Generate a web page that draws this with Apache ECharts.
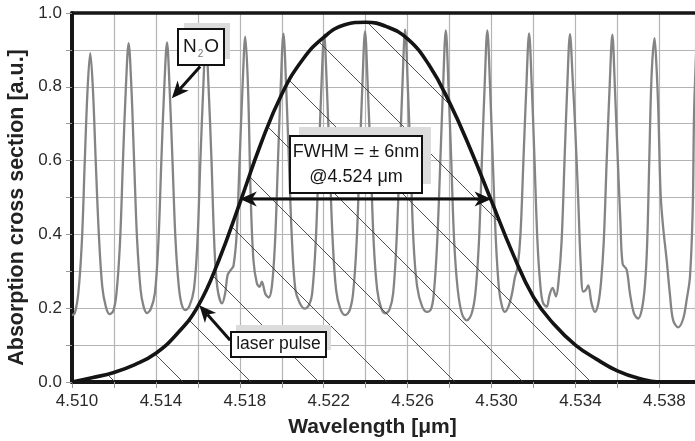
<!DOCTYPE html>
<html>
<head>
<meta charset="utf-8">
<script src="https://cdn.jsdelivr.net/npm/echarts@6/dist/echarts.min.js"></script>
<style>
  html, body { margin: 0; padding: 0; background: #ffffff; }
  #chart { width: 695px; height: 441px; }
</style>
</head>
<body>
<div id="chart"></div>
<script>
// ---- Axis ranges (µm / a.u.) ----
const X_MIN = 4.510;
const X_MAX = 4.5397;
const Y_MIN = 0;
const Y_MAX = 1;

// ---- N2O absorption spectrum ----
const n2oWavelength = [
  4.51000, 4.51013, 4.51030, 4.51047, 4.51061, 4.51074, 4.51087, 4.51100, 4.51113, 4.51128, 4.51144, 4.51161, 4.51179, 4.51197, 4.51212,
  4.51229, 4.51243, 4.51257, 4.51270, 4.51283, 4.51296, 4.51310, 4.51327, 4.51341, 4.51357, 4.51375, 4.51395,
  4.51412, 4.51426, 4.51440, 4.51453, 4.51465, 4.51479, 4.51493, 4.51509, 4.51523, 4.51540, 4.51559, 4.51581,
  4.51598, 4.51612, 4.51626, 4.51638, 4.51651, 4.51665, 4.51678, 4.51692, 4.51715, 4.51730, 4.51742, 4.51759, 4.51770,
  4.51785, 4.51799, 4.51813, 4.51826, 4.51839, 4.51852, 4.51865, 4.51881, 4.51894, 4.51905, 4.51921, 4.51937, 4.51953,
  4.51968, 4.51982, 4.51995, 4.52008, 4.52021, 4.52034, 4.52049, 4.52065, 4.52085, 4.52109, 4.52131, 4.52145,
  4.52162, 4.52176, 4.52189, 4.52202, 4.52215, 4.52228, 4.52243, 4.52259, 4.52278, 4.52302, 4.52324, 4.52340,
  4.52357, 4.52371, 4.52384, 4.52397, 4.52410, 4.52424, 4.52438, 4.52455, 4.52474, 4.52493, 4.52514, 4.52531,
  4.52547, 4.52562, 4.52575, 4.52588, 4.52601, 4.52614, 4.52628, 4.52645, 4.52669, 4.52693, 4.52712, 4.52725,
  4.52741, 4.52756, 4.52769, 4.52782, 4.52795, 4.52808, 4.52822, 4.52839, 4.52859, 4.52882, 4.52905, 4.52923,
  4.52940, 4.52954, 4.52967, 4.52980, 4.52993, 4.53006, 4.53021, 4.53036, 4.53050, 4.53064, 4.53081, 4.53096, 4.53112, 4.53124,
  4.53138, 4.53152, 4.53166, 4.53179, 4.53192, 4.53205, 4.53219, 4.53233, 4.53245, 4.53263, 4.53276, 4.53291, 4.53307, 4.53319,
  4.53334, 4.53348, 4.53361, 4.53374, 4.53387, 4.53398, 4.53414, 4.53425, 4.53437, 4.53450, 4.53461, 4.53477, 4.53493, 4.53509, 4.53522,
  4.53535, 4.53549, 4.53563, 4.53576, 4.53588, 4.53602, 4.53614, 4.53625, 4.53644, 4.53660, 4.53679, 4.53699, 4.53716, 4.53731,
  4.53742, 4.53752, 4.53763, 4.53777, 4.53786, 4.53795, 4.53806, 4.53818, 4.53835, 4.53850, 4.53866, 4.53890, 4.53914, 4.53930, 4.53946, 4.53959, 4.53966, 4.53979
];
const n2oAbsorption = [
  0.181, 0.186, 0.24, 0.38, 0.60, 0.79, 0.891, 0.79, 0.60, 0.40, 0.26, 0.205, 0.184, 0.193, 0.24,
  0.38, 0.60, 0.80, 0.918, 0.80, 0.60, 0.39, 0.25, 0.205, 0.187, 0.197, 0.24,
  0.38, 0.60, 0.80, 0.920, 0.80, 0.60, 0.39, 0.26, 0.21, 0.195, 0.205, 0.25,
  0.38, 0.60, 0.80, 0.935, 0.80, 0.60, 0.38, 0.26, 0.213, 0.24, 0.29, 0.305, 0.315,
  0.40, 0.60, 0.80, 0.936, 0.80, 0.50, 0.33, 0.268, 0.258, 0.272, 0.24, 0.229, 0.26,
  0.38, 0.60, 0.80, 0.944, 0.80, 0.60, 0.38, 0.25, 0.215, 0.199, 0.21, 0.24,
  0.38, 0.60, 0.80, 0.941, 0.80, 0.60, 0.38, 0.25, 0.20, 0.181, 0.195, 0.24,
  0.38, 0.60, 0.80, 0.950, 0.80, 0.60, 0.38, 0.25, 0.20, 0.186, 0.197, 0.24,
  0.38, 0.60, 0.80, 0.955, 0.80, 0.60, 0.38, 0.26, 0.205, 0.190, 0.198, 0.24,
  0.38, 0.60, 0.80, 0.953, 0.80, 0.60, 0.38, 0.25, 0.185, 0.167, 0.185, 0.24,
  0.38, 0.60, 0.80, 0.953, 0.80, 0.60, 0.38, 0.25, 0.205, 0.190, 0.205, 0.235, 0.285, 0.31,
  0.40, 0.60, 0.80, 0.945, 0.80, 0.60, 0.38, 0.26, 0.215, 0.204, 0.235, 0.255, 0.232, 0.27,
  0.38, 0.60, 0.80, 0.943, 0.82, 0.70, 0.484, 0.321, 0.245, 0.250, 0.262, 0.213, 0.190, 0.213, 0.27,
  0.38, 0.60, 0.80, 0.941, 0.80, 0.60, 0.44, 0.32, 0.305, 0.24, 0.186, 0.172, 0.195, 0.26,
  0.376, 0.60, 0.83, 0.932, 0.86, 0.737, 0.511, 0.42, 0.33, 0.24, 0.167, 0.148, 0.172, 0.222, 0.285, 0.466, 0.737, 0.94
];

// ---- Laser pulse spectrum ----
const pulseWavelength = [
  4.510, 4.511, 4.512, 4.513, 4.514, 4.515, 4.516, 4.517, 4.518, 4.519,
  4.520, 4.521, 4.522, 4.523, 4.524, 4.525, 4.526, 4.527, 4.528, 4.529,
  4.530, 4.531, 4.532, 4.533, 4.534, 4.535, 4.536, 4.537, 4.538, 4.539
];
const pulseIntensity = [
  0.0, 0.012, 0.026, 0.047, 0.078, 0.13, 0.205, 0.33, 0.485, 0.645,
  0.78, 0.874, 0.934, 0.968, 0.975, 0.963, 0.93, 0.861, 0.757, 0.63,
  0.49, 0.35, 0.23, 0.155, 0.10, 0.062, 0.03, 0.01, 0.0, 0.0
];

// ---- Pulse width annotation: centre and half width (µm) ----
const pulseCentre = 4.524;
const pulseHalfWidth = 0.006;
const pulseHalfMax = 0.496;

// ---- Tick spacing ----
const xTickStep = 0.002;
const yTickStep = 0.1;

const chart = echarts.init(document.getElementById('chart'), null, { renderer: 'canvas' });

// diagonal hatch used to fill the area under the laser pulse
function hatchPattern() {
  const size = 68;
  const tile = document.createElement('canvas');
  tile.width = size;
  tile.height = size;
  const ctx = tile.getContext('2d');
  ctx.strokeStyle = '#3c3c3c';
  ctx.lineWidth = 0.9;
  [5 - size, 5].forEach(function (s) {
    ctx.beginPath();
    ctx.moveTo(s, 0);
    ctx.lineTo(s + size, size);
    ctx.stroke();
  });
  return { image: tile, repeat: 'repeat' };
}

// pick the narrow sans face for the callout boxes when it is installed
function fontInstalled(name) {
  const ctx = document.createElement('canvas').getContext('2d');
  const probe = 'FWHM = ± 6nm laser pulse';
  ctx.font = '40px monospace';
  const a = ctx.measureText(probe).width;
  ctx.font = '40px "' + name + '", monospace';
  const b = ctx.measureText(probe).width;
  return Math.abs(a - b) > 0.5;
}
const narrow = fontInstalled('Liberation Sans Narrow');
const boxFont = narrow ? '"Liberation Sans Narrow"' : '"Liberation Sans", Arial, sans-serif';
const boxSize = narrow ? 21 : 18;

const n2oData = n2oWavelength.map(function (w, i) { return [w, n2oAbsorption[i]]; });
const pulseData = pulseWavelength.map(function (w, i) { return [w, pulseIntensity[i]]; });

const axisFont = '"Liberation Sans", Arial, Helvetica, sans-serif';
const gridColor = '#b4b4b4';
const frameColor = '#161616';

chart.setOption({
  animation: false,
  backgroundColor: '#ffffff',
  grid: { left: 72, right: 0, top: 13, bottom: 59, containLabel: false },
  xAxis: [
    {
      type: 'value',
      min: X_MIN,
      max: X_MAX,
      interval: xTickStep,
      axisLine: { show: true, onZero: false, lineStyle: { color: frameColor, width: 4 } },
      axisTick: { show: true, length: 6, lineStyle: { color: '#9a9a9a', width: 1 } },
      axisLabel: {
        color: '#2a2a2a',
        fontSize: 17,
        fontFamily: axisFont,
        margin: 11,
        padding: [0, 0, 0, 10],
        showMaxLabel: false,
        formatter: function (v) {
          const k = Math.round((v - X_MIN) / xTickStep);
          return k % 2 === 0 ? v.toFixed(3) : '';
        }
      },
      splitLine: { show: true, lineStyle: { color: gridColor, width: 1.2 } }
    },
    {
      type: 'value',
      position: 'top',
      min: X_MIN,
      max: X_MAX,
      axisLine: { show: true, onZero: false, lineStyle: { color: frameColor, width: 3.5 } },
      axisTick: { show: false },
      axisLabel: { show: false },
      splitLine: { show: false }
    }
  ],
  yAxis: {
    type: 'value',
    min: Y_MIN,
    max: Y_MAX,
    interval: yTickStep,
    axisLine: { show: true, onZero: false, lineStyle: { color: frameColor, width: 4 } },
    axisTick: { show: true, length: 6, lineStyle: { color: '#9a9a9a', width: 1 } },
    axisLabel: {
      color: '#2a2a2a',
      fontSize: 17,
      fontFamily: axisFont,
      margin: 10,
      formatter: function (v) {
        const k = Math.round(v / yTickStep);
        return k % 2 === 0 ? v.toFixed(1) : '';
      }
    },
    splitLine: { show: true, lineStyle: { color: gridColor, width: 1.2 } }
  },
  series: [
    {
      name: 'N2O',
      type: 'line',
      data: n2oData,
      smooth: 0.35,
      showSymbol: false,
      clip: true,
      lineStyle: { color: '#848484', width: 2.3 },
      z: 2
    },
    {
      name: 'laser pulse',
      type: 'line',
      data: pulseData,
      smooth: 0.45,
      showSymbol: false,
      clip: true,
      lineStyle: { color: '#141414', width: 3.6 },
      areaStyle: { color: hatchPattern(), opacity: 1 },
      z: 3
    }
  ]
});

// ---- callouts, arrows and axis titles ----
function px(w, v) { return chart.convertToPixel({ gridIndex: 0 }, [w, v]); }

function arrowHead(tip, from) {
  const dx = tip[0] - from[0], dy = tip[1] - from[1];
  const len = Math.sqrt(dx * dx + dy * dy);
  const ux = dx / len, uy = dy / len;
  const L = 17, W = 7.5;
  const bx = tip[0] - ux * L, by = tip[1] - uy * L;
  const nx = tip[0] - ux * L * 0.72, ny = tip[1] - uy * L * 0.72;
  return {
    head: {
      type: 'polygon',
      shape: { points: [tip, [bx - uy * W, by + ux * W], [nx, ny], [bx + uy * W, by - ux * W]] },
      style: { fill: '#111111' },
      z: 20
    },
    notch: [nx, ny]
  };
}

function singleArrow(fromData, toData) {
  const a = px(fromData[0], fromData[1]);
  const b = px(toData[0], toData[1]);
  const h = arrowHead(b, a);
  return [
    { type: 'polyline', shape: { points: [a, h.notch] }, style: { stroke: '#111111', lineWidth: 3, fill: null }, z: 20 },
    h.head
  ];
}

function doubleArrow(leftData, rightData) {
  const a = px(leftData[0], leftData[1]);
  const b = px(rightData[0], rightData[1]);
  const ha = arrowHead(a, b);
  const hb = arrowHead(b, a);
  return [
    { type: 'polyline', shape: { points: [ha.notch, hb.notch] }, style: { stroke: '#111111', lineWidth: 3, fill: null }, z: 20 },
    ha.head,
    hb.head
  ];
}

function calloutBox(centreData, w, h, shadowDx, shadowDy, textEl) {
  const c = px(centreData[0], centreData[1]);
  const x = Math.round(c[0] - w / 2), y = Math.round(c[1] - h / 2);
  const els = [
    { type: 'rect', shape: { x: x + shadowDx, y: y + shadowDy, width: w, height: h }, style: { fill: '#dcdcdc' }, z: 18 },
    { type: 'rect', shape: { x: x, y: y, width: w, height: h }, style: { fill: '#ffffff', stroke: '#111111', lineWidth: 2 }, z: 19 }
  ];
  textEl.x = x + w / 2;
  textEl.y = y + h / 2;
  textEl.z = 21;
  els.push(textEl);
  return els;
}

function drawAnnotations() {
  let g = [];

  // N2O callout
  g = g.concat(calloutBox([4.51617, 0.9077], 46, 36, 6, -6, {
    type: 'text',
    style: {
      text: '{n|N}{s|2}{n|O}',
      align: 'center',
      verticalAlign: 'middle',
      rich: {
        n: { fontFamily: boxFont, fontSize: boxSize + 1, fill: '#161616', lineHeight: 24 },
        s: { fontFamily: boxFont, fontSize: 10, fill: '#777777', verticalAlign: 'bottom', lineHeight: 18, padding: [0, 1, 0, 1] }
      }
    }
  }));
  g = g.concat(singleArrow([4.51611, 0.855], [4.51476, 0.769]));

  // pulse width callout
  g = g.concat(calloutBox([4.52354, 0.5894], 132, 57, 9, -9, {
    type: 'text',
    style: {
      text: 'FWHM = ± 6nm\n@4.524 μm',
      align: 'center',
      verticalAlign: 'middle',
      fontFamily: boxFont,
      fontSize: boxSize,
      lineHeight: 25,
      fill: '#161616'
    }
  }));
  g = g.concat(doubleArrow([pulseCentre - pulseHalfWidth, pulseHalfMax], [pulseCentre + pulseHalfWidth, pulseHalfMax]));

  // laser pulse callout
  g = g.concat(calloutBox([4.51985, 0.101], 95, 25, 5, -7, {
    type: 'text',
    style: {
      text: 'laser pulse',
      align: 'center',
      verticalAlign: 'middle',
      fontFamily: boxFont,
      fontSize: narrow ? 21 : 17.5,
      fill: '#161616'
    }
  }));
  g = g.concat(singleArrow([4.51754, 0.113], [4.51607, 0.208]));

  // axis titles
  g.push({
    type: 'text',
    x: 372.5,
    y: 427,
    style: {
      text: 'Wavelength [μm]',
      align: 'center',
      verticalAlign: 'middle',
      fontFamily: axisFont,
      fontWeight: 'bold',
      fontSize: 21,
      fill: '#222222'
    },
    z: 21
  });
  g.push({
    type: 'text',
    x: 17,
    y: 207.5,
    rotation: Math.PI / 2,
    style: {
      text: 'Absorption cross section [a.u.]',
      align: 'center',
      verticalAlign: 'middle',
      fontFamily: axisFont,
      fontWeight: 'bold',
      fontSize: 21.5,
      fill: '#222222'
    },
    z: 21
  });

  chart.setOption({ graphic: { elements: g } });
}

drawAnnotations();
</script>
</body>
</html>
